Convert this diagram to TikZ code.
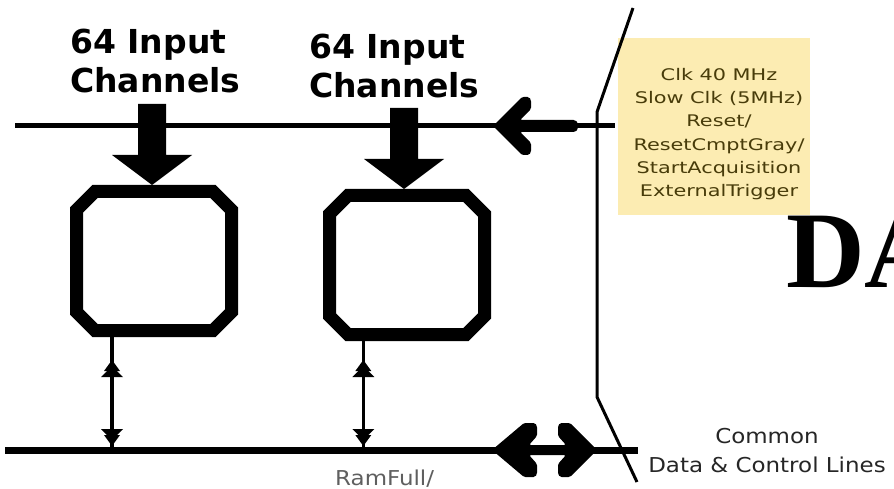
\documentclass[tikz,border=0pt]{standalone}
\usepackage{fontspec}
\usetikzlibrary{calc}
\newfontfamily\labfont{DejaVu Sans}
\newfontfamily\wfont[FakeStretch=1.3]{DejaVu Sans}
\newfontfamily\cfont[FakeStretch=1.12]{DejaVu Sans}
\newfontfamily\dafont{Liberation Serif}
\definecolor{ctrlfill}{RGB}{252,236,178}
\definecolor{ctrltext}{RGB}{72,60,10}
\definecolor{ramgray}{RGB}{95,95,95}
\newcommand\octbox[1]{%
  \draw[boxline]
    ([xshift=25pt,yshift=-6.5pt]#1.north west) --
    ([xshift=-25pt,yshift=-6.5pt]#1.north east) --
    ([xshift=-6.5pt,yshift=-25pt]#1.north east) --
    ([xshift=-6.5pt,yshift=25pt]#1.south east) --
    ([xshift=-25pt,yshift=6.5pt]#1.south east) --
    ([xshift=25pt,yshift=6.5pt]#1.south west) --
    ([xshift=6.5pt,yshift=25pt]#1.south west) --
    ([xshift=6.5pt,yshift=-25pt]#1.north west) -- cycle;}
% stepped arrowhead: #1 tip coordinate, #2 = +1 (points up) or -1 (points down)
\newcommand\stephead[2]{%
  \fill (#1) -- ++(-8,#2*11) -- ++(16,0) -- cycle;
  \fill ($(#1)+(0,#2*6)$) -- ++(-11,#2*11) -- ++(22,0) -- cycle;}
\begin{document}
\begin{tikzpicture}[x=1pt,y=-1pt,
  boxarea/.style={minimum width=168pt,minimum height=152pt,inner sep=0pt,outer sep=0pt},
  boxline/.style={line width=13pt,line join=miter},
  bus/.style={line width=#1,line cap=butt},
  vline/.style={line width=3.5pt},
  lab/.style={anchor=north west,align=left,inner sep=0pt,
    font=\labfont\bfseries\fontsize{33}{39}\selectfont},
]
\useasboundingbox (0,0) rectangle (894,489);
\clip (0,0) rectangle (894,489);
\fill[white] (0,0) rectangle (894,489);

% big title fragment
\node[anchor=base west,inner sep=0pt,font=\dafont\bfseries\fontsize{109}{109}\selectfont] (da) at (786,287) {DA};

% buses
\coordinate (tL) at (15,126);
\coordinate (tR) at (615,126);
\coordinate (bL) at (5,450);
\coordinate (bR) at (638,450);
\draw[bus=5pt] (tL) -- (tR);
\draw[bus=7pt] (bL) -- (bR);

% boxes
\node[boxarea] (box1) at (154,261) {};
\node[boxarea] (box2) at (407,265) {};
\octbox{box1}
\octbox{box2}

% labels
\node[lab] (lab1) at (70,29) {64 Input\\Channels};
\node[lab] (lab2) at (309,34) {64 Input\\Channels};

% big input arrows
\fill ([xshift=-2pt]box1.north) -- ++(-40,-30) -- ++(26,0) -- ++(0,-51) -- ++(28,0) -- ++(0,51) -- ++(26,0) -- cycle;
\fill ([xshift=-3pt]box2.north) -- ++(-40,-30) -- ++(26,0) -- ++(0,-51) -- ++(28,0) -- ++(0,51) -- ++(26,0) -- cycle;

% small vertical double arrows
\coordinate (v1) at ($(box1.south west)!0.25!(box1.south east)$);
\coordinate (v2) at ($(box2.south west)!0.24!(box2.south east)$);
\coordinate (uy) at (0,360);
\coordinate (dy) at (0,446);
\coordinate (u1) at (v1 |- uy);
\coordinate (d1) at (v1 |- dy);
\coordinate (u2) at (v2 |- uy);
\coordinate (d2) at (v2 |- dy);
\draw[vline] (v1) -- (v1 |- bL);
\draw[vline] (v2) -- (v2 |- bL);
\stephead{u1}{1}
\stephead{d1}{-1}
\stephead{u2}{1}
\stephead{d2}{-1}

% control input arrow (top)
\fill[rounded corners=1.5pt] (493,126) -- (522,97) -- (529,97) -- (531,100) -- (531,109) -- (520,120)
  -- (575,120) -- (578,123) -- (578,129) -- (575,132) -- (520,132) -- (531,143) -- (531,152)
  -- (529,155) -- (522,155) -- cycle;

% bidirectional arrow (bottom)
\fill[rounded corners=1.5pt] (492,450) -- (524,423) -- (535,423) -- (537,426) -- (537,436) -- (529,445)
  -- (566,445) -- (558,436) -- (558,426) -- (560,423) -- (570,423) -- (597,450)
  -- (570,477) -- (560,477) -- (558,474) -- (558,464) -- (566,455)
  -- (529,455) -- (537,464) -- (537,474) -- (535,477) -- (524,477) -- cycle;

% control signal box
\node[fill=ctrlfill,minimum width=192pt,minimum height=177pt,inner sep=0pt] (ctrl) at (714,126.5) {};
\node[anchor=north,align=center,inner sep=0pt,text=ctrltext,
  font=\wfont\fontsize{16}{23.3}\selectfont] (ctrltxt) at (719,68)
  {Clk 40 MHz\\Slow Clk (5MHz)\\Reset/\\ResetCmptGray/\\StartAcquisition\\ExternalTrigger};

% chip boundary
\coordinate (k1) at (633,8);
\coordinate (k2) at (597,112);
\coordinate (k3) at (597,397);
\coordinate (k4) at (637,482);
\draw[line width=3pt,line join=round] (k1) -- (k2) -- (k3) -- (k4);

% bottom texts
\node[anchor=north,align=center,inner sep=0pt,text=black!85,
  font=\cfont\fontsize{20.5}{29}\selectfont] (com) at (767,428) {Common\\Data \& Control Lines};
\node[anchor=base west,inner sep=0pt,text=ramgray,
  font=\cfont\fontsize{20.5}{24}\selectfont] (ram) at (335,485) {RamFull/};
\end{tikzpicture}
\end{document}
